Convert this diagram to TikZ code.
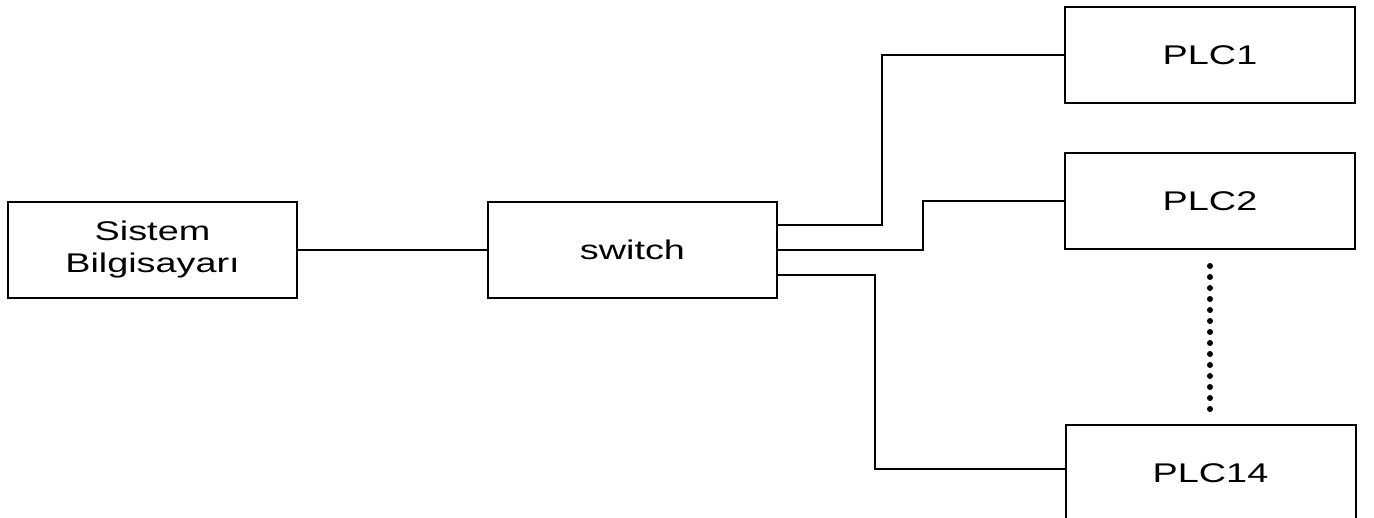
\documentclass[tikz,border=0pt]{standalone}
\usepackage{fontspec}
\newfontfamily\diafont[FakeStretch=1.4]{Liberation Sans}
\begin{document}
\begin{tikzpicture}[x=1pt,y=-1pt,
  box/.style={draw,line width=2pt,minimum width=289pt,minimum height=96pt,inner sep=0pt,align=center,
    font=\diafont\fontsize{27}{32}\selectfont},
  wire/.style={line width=1.6pt},
  dotline/.style={line width=6pt,line cap=round,dash pattern=on 0pt off 11pt}]
\useasboundingbox (0,0) rectangle (1374,517);
\clip (0,0) rectangle (1374,517);
\node[box] (sb) at (152.5,250) {Sistem\\Bilgisayarı};
\node[box] (sw) at (632.5,250) {switch};
\node[box,minimum width=290pt] (p1) at (1210,55) {PLC1};
\node[box,minimum width=290pt] (p2) at (1210,201) {PLC2};
\node[box,minimum width=290pt] (p14) at (1210.5,473) {PLC14};
\draw[wire] (sb.east) -- (sw.west);
\draw[wire] ([yshift=25pt]sw.east) -- ++(104,0) |- (p1.west);
\draw[wire] (sw.east) -- ++(145,0) |- (p2.west);
\draw[wire] ([yshift=-25pt]sw.east) -- ++(97,0) |- ([yshift=4pt]p14.west);
\draw[dotline] ([yshift=-16pt]p2.south) -- ++(0,144);
\end{tikzpicture}
\end{document}
